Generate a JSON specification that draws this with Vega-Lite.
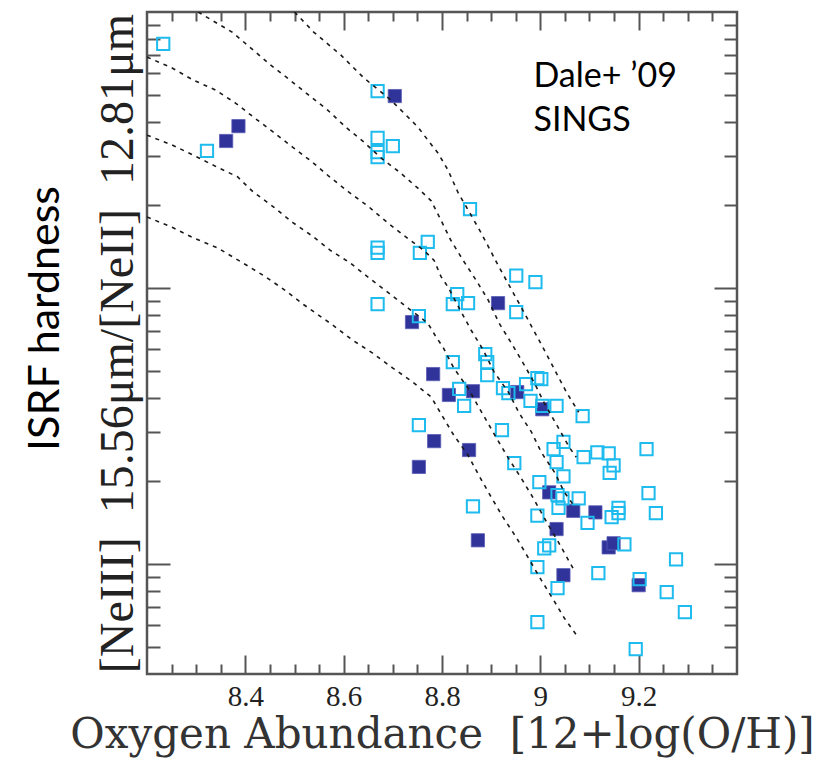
{
  "$schema": "https://vega.github.io/schema/vega-lite/v6.json",
  "width": 590,
  "height": 662,
  "autosize": {"type": "none"},
  "padding": {"left": 147, "top": 12, "right": 88, "bottom": 89},
  "background": "white",
  "config": {
    "view": {"stroke": "#555", "strokeWidth": 2.5},
    "axis": {"domain": false, "grid": false, "tickColor": "#555", "tickWidth": 2, "labels": false, "title": null}
  },
  "datasets": {
    "filled": [
      {"oh": 8.361, "ratio": 3.41}, {"oh": 8.386, "ratio": 3.86}, {"oh": 8.704, "ratio": 4.96},
      {"oh": 8.914, "ratio": 0.882}, {"oh": 8.739, "ratio": 0.753}, {"oh": 8.782, "ratio": 0.488},
      {"oh": 8.814, "ratio": 0.410}, {"oh": 8.863, "ratio": 0.423}, {"oh": 8.953, "ratio": 0.420},
      {"oh": 9.004, "ratio": 0.364}, {"oh": 8.784, "ratio": 0.279}, {"oh": 8.855, "ratio": 0.259},
      {"oh": 8.753, "ratio": 0.225}, {"oh": 9.018, "ratio": 0.182}, {"oh": 9.067, "ratio": 0.156},
      {"oh": 9.112, "ratio": 0.154}, {"oh": 9.033, "ratio": 0.134}, {"oh": 8.873, "ratio": 0.122},
      {"oh": 9.139, "ratio": 0.115}, {"oh": 9.149, "ratio": 0.119}, {"oh": 9.047, "ratio": 0.0912},
      {"oh": 9.200, "ratio": 0.0839}
    ],
    "open": [
      {"oh": 8.233, "ratio": 7.66}, {"oh": 8.322, "ratio": 3.14}, {"oh": 8.669, "ratio": 5.17},
      {"oh": 8.669, "ratio": 3.50}, {"oh": 8.700, "ratio": 3.27}, {"oh": 8.669, "ratio": 3.11},
      {"oh": 8.669, "ratio": 2.98}, {"oh": 8.857, "ratio": 1.93}, {"oh": 8.669, "ratio": 1.40},
      {"oh": 8.669, "ratio": 1.34}, {"oh": 8.771, "ratio": 1.47}, {"oh": 8.755, "ratio": 1.34},
      {"oh": 8.669, "ratio": 0.875}, {"oh": 8.753, "ratio": 0.792}, {"oh": 8.831, "ratio": 0.951},
      {"oh": 8.822, "ratio": 0.875}, {"oh": 8.853, "ratio": 0.882}, {"oh": 8.951, "ratio": 1.11},
      {"oh": 8.990, "ratio": 1.05}, {"oh": 8.951, "ratio": 0.819}, {"oh": 8.822, "ratio": 0.539},
      {"oh": 8.888, "ratio": 0.577}, {"oh": 8.892, "ratio": 0.539}, {"oh": 8.892, "ratio": 0.484},
      {"oh": 8.835, "ratio": 0.431}, {"oh": 8.845, "ratio": 0.374}, {"oh": 8.753, "ratio": 0.319},
      {"oh": 8.924, "ratio": 0.434}, {"oh": 8.935, "ratio": 0.416}, {"oh": 8.971, "ratio": 0.449},
      {"oh": 8.994, "ratio": 0.472}, {"oh": 9.002, "ratio": 0.468}, {"oh": 8.980, "ratio": 0.390},
      {"oh": 9.033, "ratio": 0.374}, {"oh": 9.004, "ratio": 0.374}, {"oh": 9.086, "ratio": 0.344},
      {"oh": 8.922, "ratio": 0.306}, {"oh": 8.947, "ratio": 0.232}, {"oh": 9.027, "ratio": 0.261},
      {"oh": 9.047, "ratio": 0.277}, {"oh": 9.033, "ratio": 0.234}, {"oh": 9.088, "ratio": 0.244},
      {"oh": 9.116, "ratio": 0.254}, {"oh": 9.139, "ratio": 0.252}, {"oh": 9.149, "ratio": 0.228},
      {"oh": 9.141, "ratio": 0.214}, {"oh": 9.216, "ratio": 0.261}, {"oh": 9.047, "ratio": 0.208},
      {"oh": 8.998, "ratio": 0.198}, {"oh": 9.035, "ratio": 0.178}, {"oh": 9.045, "ratio": 0.173},
      {"oh": 9.037, "ratio": 0.160}, {"oh": 9.078, "ratio": 0.173}, {"oh": 9.159, "ratio": 0.160},
      {"oh": 9.159, "ratio": 0.153}, {"oh": 9.145, "ratio": 0.148}, {"oh": 8.863, "ratio": 0.162},
      {"oh": 8.994, "ratio": 0.150}, {"oh": 9.096, "ratio": 0.141}, {"oh": 9.220, "ratio": 0.181},
      {"oh": 9.235, "ratio": 0.153}, {"oh": 9.008, "ratio": 0.114}, {"oh": 9.018, "ratio": 0.117},
      {"oh": 9.171, "ratio": 0.118}, {"oh": 9.276, "ratio": 0.104}, {"oh": 8.994, "ratio": 0.0975},
      {"oh": 9.035, "ratio": 0.0818}, {"oh": 9.118, "ratio": 0.0928}, {"oh": 9.202, "ratio": 0.0882},
      {"oh": 9.257, "ratio": 0.0792}, {"oh": 9.294, "ratio": 0.0670}, {"oh": 8.994, "ratio": 0.0617},
      {"oh": 9.194, "ratio": 0.0492}
    ],
    "models": [
      {"track": "1", "oh": 8.500, "ratio": 10.0}, {"track": "1", "oh": 8.539, "ratio": 8.46},
      {"track": "1", "oh": 8.594, "ratio": 6.99}, {"track": "1", "oh": 8.641, "ratio": 5.77},
      {"track": "1", "oh": 8.696, "ratio": 4.80}, {"track": "1", "oh": 8.751, "ratio": 3.83},
      {"track": "1", "oh": 8.771, "ratio": 3.44}, {"track": "1", "oh": 8.792, "ratio": 3.08},
      {"track": "1", "oh": 8.812, "ratio": 2.68}, {"track": "1", "oh": 8.833, "ratio": 2.21},
      {"track": "1", "oh": 8.853, "ratio": 1.92}, {"track": "1", "oh": 8.880, "ratio": 1.58},
      {"track": "1", "oh": 8.914, "ratio": 1.21}, {"track": "1", "oh": 8.961, "ratio": 0.853},
      {"track": "1", "oh": 9.006, "ratio": 0.606}, {"track": "1", "oh": 9.053, "ratio": 0.420},
      {"track": "1", "oh": 9.078, "ratio": 0.355},
      {"track": "2", "oh": 8.304, "ratio": 10.0}, {"track": "2", "oh": 8.345, "ratio": 9.05},
      {"track": "2", "oh": 8.373, "ratio": 8.46}, {"track": "2", "oh": 8.416, "ratio": 7.28},
      {"track": "2", "oh": 8.451, "ratio": 6.43}, {"track": "2", "oh": 8.488, "ratio": 5.72},
      {"track": "2", "oh": 8.529, "ratio": 5.00}, {"track": "2", "oh": 8.567, "ratio": 4.42},
      {"track": "2", "oh": 8.604, "ratio": 3.83}, {"track": "2", "oh": 8.641, "ratio": 3.38},
      {"track": "2", "oh": 8.676, "ratio": 2.96}, {"track": "2", "oh": 8.716, "ratio": 2.61},
      {"track": "2", "oh": 8.751, "ratio": 2.30}, {"track": "2", "oh": 8.778, "ratio": 2.07},
      {"track": "2", "oh": 8.798, "ratio": 1.76}, {"track": "2", "oh": 8.818, "ratio": 1.49},
      {"track": "2", "oh": 8.843, "ratio": 1.26}, {"track": "2", "oh": 8.869, "ratio": 1.07},
      {"track": "2", "oh": 8.894, "ratio": 0.905}, {"track": "2", "oh": 8.916, "ratio": 0.747},
      {"track": "2", "oh": 8.941, "ratio": 0.632}, {"track": "2", "oh": 8.965, "ratio": 0.535},
      {"track": "2", "oh": 8.988, "ratio": 0.453}, {"track": "2", "oh": 9.008, "ratio": 0.383},
      {"track": "2", "oh": 9.037, "ratio": 0.311}, {"track": "2", "oh": 9.059, "ratio": 0.265},
      {"track": "2", "oh": 9.073, "ratio": 0.244},
      {"track": "3", "oh": 8.200, "ratio": 6.87}, {"track": "3", "oh": 8.251, "ratio": 6.27},
      {"track": "3", "oh": 8.294, "ratio": 5.67}, {"track": "3", "oh": 8.339, "ratio": 5.22},
      {"track": "3", "oh": 8.380, "ratio": 4.68}, {"track": "3", "oh": 8.416, "ratio": 4.17},
      {"track": "3", "oh": 8.457, "ratio": 3.67}, {"track": "3", "oh": 8.496, "ratio": 3.24},
      {"track": "3", "oh": 8.533, "ratio": 2.89}, {"track": "3", "oh": 8.569, "ratio": 2.55},
      {"track": "3", "oh": 8.610, "ratio": 2.23}, {"track": "3", "oh": 8.651, "ratio": 1.97},
      {"track": "3", "oh": 8.690, "ratio": 1.72}, {"track": "3", "oh": 8.727, "ratio": 1.53},
      {"track": "3", "oh": 8.763, "ratio": 1.37}, {"track": "3", "oh": 8.784, "ratio": 1.26},
      {"track": "3", "oh": 8.798, "ratio": 1.10}, {"track": "3", "oh": 8.812, "ratio": 1.01},
      {"track": "3", "oh": 8.835, "ratio": 0.846}, {"track": "3", "oh": 8.859, "ratio": 0.705},
      {"track": "3", "oh": 8.884, "ratio": 0.596}, {"track": "3", "oh": 8.906, "ratio": 0.496},
      {"track": "3", "oh": 8.935, "ratio": 0.420}, {"track": "3", "oh": 8.957, "ratio": 0.352},
      {"track": "3", "oh": 8.982, "ratio": 0.301}, {"track": "3", "oh": 9.002, "ratio": 0.254},
      {"track": "3", "oh": 9.029, "ratio": 0.215}, {"track": "3", "oh": 9.049, "ratio": 0.182},
      {"track": "3", "oh": 9.067, "ratio": 0.164},
      {"track": "4", "oh": 8.200, "ratio": 3.58}, {"track": "4", "oh": 8.251, "ratio": 3.30},
      {"track": "4", "oh": 8.294, "ratio": 3.03}, {"track": "4", "oh": 8.343, "ratio": 2.74},
      {"track": "4", "oh": 8.384, "ratio": 2.53}, {"track": "4", "oh": 8.416, "ratio": 2.23},
      {"track": "4", "oh": 8.457, "ratio": 1.97}, {"track": "4", "oh": 8.496, "ratio": 1.73},
      {"track": "4", "oh": 8.537, "ratio": 1.54}, {"track": "4", "oh": 8.573, "ratio": 1.37},
      {"track": "4", "oh": 8.614, "ratio": 1.23}, {"track": "4", "oh": 8.651, "ratio": 1.09},
      {"track": "4", "oh": 8.692, "ratio": 0.959}, {"track": "4", "oh": 8.731, "ratio": 0.846},
      {"track": "4", "oh": 8.771, "ratio": 0.747}, {"track": "4", "oh": 8.788, "ratio": 0.665},
      {"track": "4", "oh": 8.802, "ratio": 0.611}, {"track": "4", "oh": 8.824, "ratio": 0.513},
      {"track": "4", "oh": 8.853, "ratio": 0.434}, {"track": "4", "oh": 8.876, "ratio": 0.367},
      {"track": "4", "oh": 8.910, "ratio": 0.288}, {"track": "4", "oh": 8.935, "ratio": 0.242},
      {"track": "4", "oh": 8.961, "ratio": 0.205}, {"track": "4", "oh": 8.986, "ratio": 0.173},
      {"track": "4", "oh": 9.008, "ratio": 0.147}, {"track": "4", "oh": 9.037, "ratio": 0.120},
      {"track": "4", "oh": 9.059, "ratio": 0.102}, {"track": "4", "oh": 9.071, "ratio": 0.0936},
      {"track": "5", "oh": 8.200, "ratio": 1.81}, {"track": "5", "oh": 8.251, "ratio": 1.66},
      {"track": "5", "oh": 8.294, "ratio": 1.52}, {"track": "5", "oh": 8.343, "ratio": 1.40},
      {"track": "5", "oh": 8.396, "ratio": 1.23}, {"track": "5", "oh": 8.437, "ratio": 1.11},
      {"track": "5", "oh": 8.478, "ratio": 0.99}, {"track": "5", "oh": 8.519, "ratio": 0.87},
      {"track": "5", "oh": 8.578, "ratio": 0.734}, {"track": "5", "oh": 8.618, "ratio": 0.648},
      {"track": "5", "oh": 8.659, "ratio": 0.581}, {"track": "5", "oh": 8.700, "ratio": 0.513},
      {"track": "5", "oh": 8.741, "ratio": 0.456}, {"track": "5", "oh": 8.778, "ratio": 0.403},
      {"track": "5", "oh": 8.802, "ratio": 0.341}, {"track": "5", "oh": 8.824, "ratio": 0.293},
      {"track": "5", "oh": 8.853, "ratio": 0.248}, {"track": "5", "oh": 8.876, "ratio": 0.208},
      {"track": "5", "oh": 8.900, "ratio": 0.175}, {"track": "5", "oh": 8.924, "ratio": 0.148},
      {"track": "5", "oh": 8.951, "ratio": 0.125}, {"track": "5", "oh": 8.976, "ratio": 0.105},
      {"track": "5", "oh": 9.002, "ratio": 0.0875}, {"track": "5", "oh": 9.027, "ratio": 0.0741},
      {"track": "5", "oh": 9.049, "ratio": 0.0637}, {"track": "5", "oh": 9.078, "ratio": 0.0539}
    ]
  },
  "resolve": {"scale": {"x": "shared", "y": "shared"}, "axis": {"x": "independent", "y": "independent"}},
  "layer": [
    {
      "data": {"name": "filled"},
      "mark": {"type": "point", "shape": "square", "filled": true, "size": 175, "color": "#303399", "opacity": 1, "stroke": "#5a5db5", "strokeWidth": 0.8},
      "encoding": {
        "x": {"field": "oh", "type": "quantitative",
          "scale": {"type": "linear", "domain": [8.2, 9.4], "nice": false, "zero": false},
          "axis": {"orient": "bottom", "values": [8.4, 8.6, 8.8, 9, 9.2], "tickSize": -19, "labels": true, "format": "~g",
            "labelFont": "Liberation Serif", "labelFontSize": 29, "labelColor": "#222", "labelPadding": 27,
            "title": "Oxygen Abundance\u00a0 [12+log(O/H)]", "titleFont": "DejaVu Serif", "titleFontSize": 42,
            "titleFontWeight": "normal", "titleColor": "#333", "titlePadding": 3}},
        "y": {"field": "ratio", "type": "quantitative",
          "scale": {"type": "log", "domain": [0.04, 10], "nice": false},
          "axis": {"orient": "left", "values": [0.1, 1], "tickSize": -23,
            "title": "[NeIII]\u00a0 15.56μm/[NeII]\u00a0 12.81μm", "titleFont": "Liberation Serif", "titleFontSize": 48,
            "titleFontWeight": "normal", "titleColor": "#222", "titlePadding": 4}}
      }
    },
    {
      "data": {"name": "open"},
      "mark": {"type": "point", "shape": "square", "filled": false, "size": 150, "color": "#1EBBEE", "strokeWidth": 2, "opacity": 1},
      "encoding": {
        "x": {"field": "oh", "type": "quantitative",
          "scale": {"type": "linear", "domain": [8.2, 9.4], "nice": false, "zero": false},
          "axis": {"orient": "bottom", "values": [8.25, 8.3, 8.35, 8.45, 8.5, 8.55, 8.65, 8.7, 8.75, 8.85, 8.9, 8.95, 9.05, 9.1, 9.15, 9.25, 9.3, 9.35], "tickSize": -10}},
        "y": {"field": "ratio", "type": "quantitative",
          "scale": {"type": "log", "domain": [0.04, 10], "nice": false},
          "axis": {"orient": "left", "values": [0.05, 0.06, 0.07, 0.08, 0.09, 0.2, 0.3, 0.4, 0.5, 0.6, 0.7, 0.8, 0.9, 2, 3, 4, 5, 6, 7, 8, 9], "tickSize": -13}}
      }
    },
    {
      "data": {"name": "models"},
      "mark": {"type": "line", "strokeDash": [4, 5], "strokeWidth": 1.6, "color": "#1a1a1a", "clip": true},
      "encoding": {
        "x": {"field": "oh", "type": "quantitative",
          "scale": {"type": "linear", "domain": [8.2, 9.4], "nice": false, "zero": false},
          "axis": {"orient": "top", "values": [8.4, 8.6, 8.8, 9, 9.2], "tickSize": -18}},
        "y": {"field": "ratio", "type": "quantitative",
          "scale": {"type": "log", "domain": [0.04, 10], "nice": false},
          "axis": {"orient": "right", "values": [0.1, 1], "tickSize": -23}},
        "detail": {"field": "track", "type": "nominal"}
      }
    },
    {
      "data": {"values": [{}]},
      "mark": {"type": "text", "text": ["Dale+ ’09", "SINGS"], "align": "left", "baseline": "alphabetic", "font": "Lato", "fontSize": 34, "lineHeight": 44, "color": "#000"},
      "encoding": {
        "x": {"datum": 8.986, "type": "quantitative",
          "scale": {"type": "linear", "domain": [8.2, 9.4], "nice": false, "zero": false},
          "axis": {"orient": "top", "values": [8.25, 8.3, 8.35, 8.45, 8.5, 8.55, 8.65, 8.7, 8.75, 8.85, 8.9, 8.95, 9.05, 9.1, 9.15, 9.25, 9.3, 9.35], "tickSize": -9}},
        "y": {"datum": 5.35, "type": "quantitative",
          "scale": {"type": "log", "domain": [0.04, 10], "nice": false},
          "axis": {"orient": "right", "values": [0.05, 0.06, 0.07, 0.08, 0.09, 0.2, 0.3, 0.4, 0.5, 0.6, 0.7, 0.8, 0.9, 2, 3, 4, 5, 6, 7, 8, 9], "tickSize": -13}}
      }
    },
    {
      "data": {"name": "filled"},
      "mark": {"type": "point", "opacity": 0},
      "encoding": {
        "x": {"field": "oh", "type": "quantitative",
          "scale": {"type": "linear", "domain": [8.2, 9.4], "nice": false, "zero": false}, "axis": null},
        "y": {"field": "ratio", "type": "quantitative",
          "scale": {"type": "log", "domain": [0.04, 10], "nice": false},
          "axis": {"orient": "left", "ticks": false, "title": "ISRF hardness", "titleFont": "Lato", "titleFontSize": 43,
            "titleFontWeight": "normal", "titleColor": "#000", "titlePadding": 80, "titleY": 306}}
      }
    }
  ]
}
